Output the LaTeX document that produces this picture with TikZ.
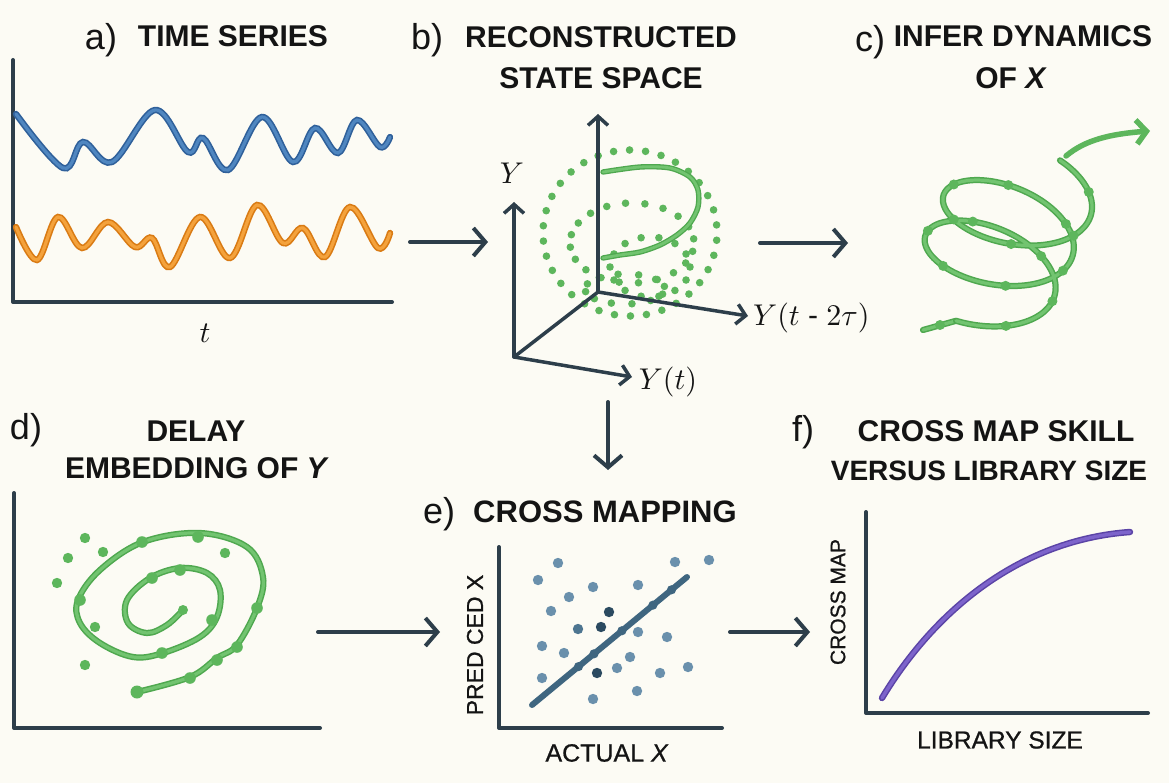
\documentclass[tikz,border=0pt]{standalone}
\usepackage[no-math]{fontspec}
\setmainfont{Liberation Sans}
\newfontfamily\medfont[FakeBold=0.8]{Liberation Sans}
\DeclareFontFamily{OML}{cmm}{\skewchar\font'177}
\DeclareFontShape{OML}{cmm}{m}{it}{<->cmmi10}{}
\DeclareFontFamily{OMS}{cmsy}{\skewchar\font'60}
\DeclareFontShape{OMS}{cmsy}{m}{n}{<->cmsy10}{}
\DeclareFontShape{OT1}{cmr}{m}{n}{<->cmr10}{}
\usetikzlibrary{arrows.meta,calc}
\definecolor{bg}{HTML}{FCFBF4}
\definecolor{axis}{HTML}{2D3E4A}
\definecolor{ink}{HTML}{141414}
\definecolor{blueE}{HTML}{2F609A}
\definecolor{blueC}{HTML}{4F86C0}
\definecolor{oraE}{HTML}{D97B14}
\definecolor{oraC}{HTML}{F4A23C}
\definecolor{grE}{HTML}{4FA84F}
\definecolor{grC}{HTML}{72C470}
\definecolor{grD}{HTML}{5DB65C}
\definecolor{purE}{HTML}{5B44A6}
\definecolor{purC}{HTML}{7D64CB}
\definecolor{slate}{HTML}{3F6680}
\definecolor{dotL}{HTML}{6A90AC}
\definecolor{dotM}{HTML}{4D7590}
\definecolor{dotD}{HTML}{2B4A60}
\tikzset{
  ttl/.style={font=\fontsize{30}{34}\selectfont\bfseries, text=ink, inner sep=0pt},
  lbl/.style={font=\fontsize{36}{40}\selectfont, text=ink, inner sep=0pt},
  mathlbl/.style={font=\fontsize{30}{34}\selectfont, text=ink, inner sep=0pt},
  axlbl/.style={text=ink, inner sep=0pt},
  axisline/.style={draw=axis, line width=4pt, line cap=round, line join=round},
  axisarrow/.style={draw=axis, line width=3.5pt, line cap=round, -{Straight Barb[length=9pt,width=20pt]}},
  flow/.style={draw=axis, line width=4pt, line cap=round, -{Straight Barb[length=12pt,width=28pt]}},
  tubeblue/.style={draw=blueE, double=blueC, line width=1.6pt, double distance=3.2pt, line cap=round},
  tubeorange/.style={draw=oraE, double=oraC, line width=1.6pt, double distance=3.2pt, line cap=round},
  tubegreen/.style={draw=grE, double=grC, line width=1.5pt, double distance=3.2pt, line cap=round},
  tubepurple/.style={draw=purE, double=purC, line width=1.5pt, double distance=3.4pt, line cap=round},
  gdot/.style={fill=grD},
}
\begin{document}
\begin{tikzpicture}[x=1pt,y=-1pt]
\useasboundingbox (0,0) rectangle (1169,783);
\fill[bg] (0,0) rectangle (1169,783);

% ---------- panel a ----------
\node[lbl] (ta0) at (101,40) {a)};
\node[ttl] (ta1) at (233,36) {TIME SERIES};
\coordinate (aTop) at (13,60);
\coordinate (aO) at (13,302);
\coordinate (aR) at (392,302);
\draw[axisline] (aTop) -- (aO) -- (aR);
\node[mathlbl] (tlab) at (205,333) {$t$};
\draw[tubeblue] plot[smooth,tension=0.6] coordinates {(16,114) (63,168) (83,142) (112,162) (155,110) (188,152) (203,138) (228,170) (262,117) (293,162) (315,128) (338,153) (357,120) (380,147) (390,137)};
\draw[tubeorange] plot[smooth,tension=0.6] coordinates {(16,227) (37,260) (58,217) (82,248) (108,222) (135,247) (152,238) (170,267) (200,217) (230,258) (257,205) (283,243) (303,228) (325,257) (350,207) (378,248) (390,233)};

\coordinate (ab1) at (410,242);
\coordinate (ab2) at (488,242);
\draw[flow] (ab1) -- (ab2);

% ---------- panel b ----------
\node[lbl] (tb0) at (427,40) {b)};
\node[ttl] (tb1) at (601,37) {RECONSTRUCTED};
\node[ttl] (tb2) at (601,78) {STATE SPACE};
\foreach \cx/\cy/\rx/\ry/\n/\o in {630/233/87/83/34/5, 632/243/62/40/20/12, 650/267/40/30/14/0, 625/289/40/15/12/20}{
  \pgfmathsetmacro\st{360/\n}
  \foreach \k in {1,...,\n}
    \fill[gdot] ({\cx+\rx*cos(\k*\st+\o)},{\cy+\ry*sin(\k*\st+\o)}) circle (3.8pt);
}
\draw[tubegreen, line width=1.3pt, double distance=2.8pt] plot[smooth] coordinates {(603,172) (640,167) (670,168) (690,177) (698,190) (698,207) (690,223) (677,235) (660,245) (640,252) (620,255) (603,258)};
\coordinate (bO) at (598,292);
\coordinate (bTop) at (598,114);
\coordinate (bC) at (514,357);
\coordinate (bYtop) at (514,202);
\coordinate (bYt) at (632,377);
\coordinate (bY2) at (748,316);
\draw[axisarrow] (bO) -- (bTop);
\draw[axisline, line width=3.5pt] (bC) -- (bO);
\draw[axisarrow] (bO) -- (bY2);
\draw[axisarrow] (bC) -- (bYtop);
\draw[axisarrow] (bC) -- (bYt);
\node[mathlbl] (lY) at (512,173) {$Y$};
\node[mathlbl] (lYt) at (668,382) {$Y(t)$};
\node[mathlbl, anchor=west] (lY2) at (753,318) {$Y(t\;\mbox{-}\;2\tau)$};

\coordinate (bc1) at (760,243);
\coordinate (bc2) at (848,243);
\draw[flow] (bc1) -- (bc2);

% ---------- panel c ----------
\node[lbl] (tc0) at (870,42) {c)};
\node[ttl] (tc1) at (1023,36) {INFER DYNAMICS};
\node[ttl] (tc2) at (1011,78) {OF \textit{X}};
\coordinate (cTail) at (923,330);
\coordinate (cStart) at (956,320.8);
\draw[tubegreen] (cTail) -- (cStart);
\draw[tubegreen] plot[smooth, domain=0:890, samples=150, variable=\u]
  ({980+45*(\u/890)+70*cos(110-\u)}, {288-100*(\u/890)+40*sin(110-\u)+14*cos(110-\u)});
\fill[gdot] (940,325) circle (5pt);
\foreach \u in {40,95,150,215,270,330,385,440,500,560,615,680,735,790,850}
  \fill[gdot] ({980+45*(\u/890)+70*cos(110-\u)}, {288-100*(\u/890)+40*sin(110-\u)+14*cos(110-\u)}) circle (5pt);
\coordinate (c1) at (1066,156);
\coordinate (c2) at (1150,131);
\draw[draw=grD, line width=5.5pt, line cap=round, -{Straight Barb[length=10pt,width=24pt]}] (c1) .. controls (1085,140) and (1110,134) .. (c2);

\coordinate (be1) at (608,402);
\coordinate (be2) at (608,470);
\draw[flow] (be1) -- (be2);

% ---------- panel d ----------
\node[lbl] (td0) at (26,430) {d)};
\node[ttl] (td1) at (196,431) {DELAY};
\node[ttl] (td2) at (197,468) {EMBEDDING OF \textit{Y}};
\coordinate (dTop) at (14,493);
\coordinate (dO) at (14,728);
\coordinate (dR) at (320,728);
\draw[axisline] (dTop) -- (dO) -- (dR);
\draw[tubegreen] plot[smooth, tension=0.6] coordinates {(183,610) (167,625) (147,633) (128,623) (127,600) (150,578) (180,568) (207,573) (220,590) (217,617) (200,637) (163,653) (133,657) (100,643) (80,623) (78,600) (100,570) (143,542) (200,533) (247,547) (263,577) (257,608) (237,645) (217,658) (190,677) (137,692)};
\foreach \p in {(142,542),(198,537),(80,600),(152,578),(180,570),(212,620),(257,608),(237,647),(217,660),(190,678),(162,653)}
  \fill[gdot] \p circle (5.8pt);
\fill[gdot] (137,692) circle (6.5pt);
\fill[gdot] (183,610) circle (5pt);
\foreach \p in {(85,538),(68,558),(57,583),(103,552),(225,553),(95,627),(85,665)}
  \fill[gdot] \p circle (5.2pt);

\coordinate (de1) at (318,632);
\coordinate (de2) at (440,632);
\draw[flow] (de1) -- (de2);

% ---------- panel e ----------
\node[lbl] (te0) at (439,514) {e)};
\node[ttl, font=\fontsize{31}{35}\selectfont\bfseries] (te1) at (605,512) {CROSS MAPPING};
\coordinate (eTop) at (499,547);
\coordinate (eO) at (499,728);
\coordinate (eR) at (722,728);
\draw[axisline] (eTop) -- (eO) -- (eR);
\node[axlbl, font=\fontsize{23}{26}\medfont, rotate=90] (ey) at (475,645) {PRED CED X};
\node[axlbl, font=\fontsize{25}{28}\medfont] (ex) at (607,753) {ACTUAL \textit{X}};
\foreach \p in {(558,563),(675,562),(709,560),(538,580),(593,587),(638,585),(569,597),(551,611),(638,632),(667,637),(542,646),(564,653),(630,657),(617,668),(660,673),(688,667),(542,678),(637,691),(593,699)}
  \fill[dotL] \p circle (5.2pt);
\fill[dotM] (578,629) circle (5.2pt);
\foreach \p in {(609,612),(601,627),(597,673)}
  \fill[dotD] \p circle (5.2pt);
\coordinate (eL1) at (532,705);
\coordinate (eL2) at (687,577);
\draw[draw=slate, line width=6pt, line cap=round] (eL1) -- (eL2);
\foreach \f in {0.3,0.4,0.58,0.78,0.9}
  \fill[slate] ($(eL1)!\f!(eL2)$) circle (4.6pt);

\coordinate (ef1) at (730,632);
\coordinate (ef2) at (810,632);
\draw[flow] (ef1) -- (ef2);

% ---------- panel f ----------
\node[lbl] (tf0) at (803,432) {f)};
\node[ttl] (tf1) at (996,431) {CROSS MAP SKILL};
\node[ttl, font=\fontsize{28}{32}\selectfont\bfseries] (tf2) at (989,471) {VERSUS LIBRARY SIZE};
\coordinate (fTop) at (866,512);
\coordinate (fO) at (866,713);
\coordinate (fR) at (1148,713);
\draw[axisline] (fTop) -- (fO) -- (fR);
\node[axlbl, font=\fontsize{21}{24}\medfont, rotate=90] (fy) at (838,602) {CROSS MAP};
\node[axlbl, font=\fontsize{24.5}{28}\medfont] (fx) at (1000,740) {LIBRARY SIZE};
\coordinate (fc1) at (882,698);
\coordinate (fc2) at (1130,532);
\draw[tubepurple] (fc1) .. controls (935,610) and (1020,540) .. (fc2);
\end{tikzpicture}
\end{document}
